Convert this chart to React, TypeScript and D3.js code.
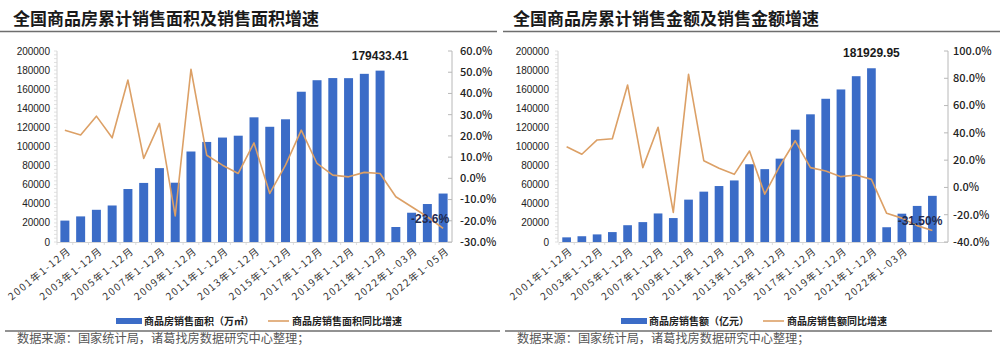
import React from "react";
import * as d3 from "d3";

const categories = [
  "2001年1-12月", "2002年1-12月", "2003年1-12月", "2004年1-12月", "2005年1-12月",
  "2006年1-12月", "2007年1-12月", "2008年1-12月", "2009年1-12月", "2010年1-12月",
  "2011年1-12月", "2012年1-12月", "2013年1-12月", "2014年1-12月", "2015年1-12月",
  "2016年1-12月", "2017年1-12月", "2018年1-12月", "2019年1-12月", "2020年1-12月",
  "2021年1-12月", "2022年1-02月", "2022年1-03月", "2022年1-04月", "2022年1-05月",
];

const areaValues = [
  22412, 26808, 33718, 38232, 55486, 61857, 77355, 62089, 94755, 104765,
  109366, 111304, 130551, 120649, 128495, 157349, 169408, 171654, 171558, 176086,
  179433.41, 15703, 30655, 39768, 50738,
];
const areaGrowth = [
  22.7, 20.4, 29.3, 19.1, 46.3, 9.4, 25.9, -17.7, 51.4, 10.9,
  6.2, 2.3, 16.7, -7.1, 6.2, 22.7, 7.0, 1.5, 0.7, 2.8,
  2.3, -8.7, -13.4, -18.1, -23.6,
];

const amountValues = [
  4863, 6032, 7956, 10376, 17576, 20826, 29889, 25068, 44355, 52721,
  58589, 64456, 81428, 76292, 87281, 117627, 133701, 149973, 159725, 173613,
  181929.95, 15459, 29655, 37773, 48337,
];
const amountGrowth = [
  29.8, 24.3, 34.8, 35.7, 75.1, 14.5, 44.1, -18.3, 82.9, 19.6,
  14.0, 9.6, 26.7, -4.9, 15.9, 34.2, 14.5, 12.0, 7.9, 9.1,
  5.9, -19.0, -22.5, -28.0, -31.5,
];

const leftTicks = [0, 20000, 40000, 60000, 80000, 100000, 120000, 140000, 160000, 180000, 200000];
const areaPctTicks = [-30, -20, -10, 0, 10, 20, 30, 40, 50, 60];
const amountPctTicks = [-40, -20, 0, 20, 40, 60, 80, 100];

const areaLabelIdx = [0, 2, 4, 6, 8, 10, 12, 14, 16, 18, 20, 22, 24];
const amountLabelIdx = [0, 2, 4, 6, 8, 10, 12, 14, 16, 18, 20, 22];

const BAR = "#3b6cc7";
const LINE = "#dca066";
const CJK = "'Noto Sans CJK SC', 'Noto Sans', sans-serif";

type PanelProps = {
  title: string;
  values: number[];
  growth: number[];
  pctDomain: [number, number];
  pctTicks: number[];
  pctFmt: (v: number) => string;
  labelIdx: number[];
  peakLabel: string;
  lastLabel: string;
  lastLabelDx: number;
  legendBar: string;
  legendLine: string;
  x0: number;
  xRange: [number, number];
  leftAxisX: number;
  rightAxisX: number;
  rightLabelX: number;
  leftLabelX: number;
  legendBarX: number;
  legendLineX: number;
  hr: [number, number];
  foot: [number, number];
  sourceX: number;
};

function Panel(p: PanelProps) {
  const yTop = 51;
  const yBot = 242;
  const x = d3.scaleBand<string>().domain(categories).range(p.xRange).padding(0);
  const bw = x.bandwidth();
  const barW = bw * 0.57;
  const cx = (i: number) => (x(categories[i]) as number) + bw / 2;
  const yL = d3.scaleLinear().domain([0, 200000]).range([yBot, yTop]);
  const yR = d3.scaleLinear().domain(p.pctDomain).range([yBot, yTop]);
  const line = d3
    .line<number>()
    .x((_, i) => cx(i))
    .y((d) => yR(d));
  const minor = d3.range(0, 200001, 4000);
  const peakIdx = 20;
  const lastIdx = categories.length - 1;

  return (
    <g>
      <text x={p.x0 + 13} y={25} fontFamily={CJK} fontSize={17} fontWeight={700} fill="#1a1a1a">
        {p.title}
      </text>
      <line x1={p.hr[0]} x2={p.hr[1]} y1={31.5} y2={31.5} stroke="#6e6e6e" strokeWidth={1.5} />

      {/* left axis */}
      <line x1={p.leftAxisX} x2={p.leftAxisX} y1={yTop} y2={yBot} stroke="#d4d4d4" strokeWidth={1} />
      {minor.map((v) => (
        <line key={"m" + v} x1={p.leftAxisX - 3} x2={p.leftAxisX} y1={yL(v)} y2={yL(v)} stroke="#d8d8d8" strokeWidth={0.8} />
      ))}
      {leftTicks.map((v) => (
        <text key={"l" + v} x={p.leftLabelX} y={yL(v)} dy="0.35em" textAnchor="end"
          fontFamily="'Liberation Sans', Arial, sans-serif" fontSize={10} fill="#222">
          {v}
        </text>
      ))}

      {/* bottom axis */}
      <line x1={p.xRange[0]} x2={p.rightAxisX} y1={yBot + 0.5} y2={yBot + 0.5} stroke="#d4d4d4" strokeWidth={1} />
      {categories.map((c) => (
        <line key={"bt" + c} x1={x(c) as number} x2={x(c) as number} y1={yBot} y2={yBot + 3} stroke="#d4d4d4" strokeWidth={0.8} />
      ))}

      {/* right axis */}
      <line x1={p.rightAxisX} x2={p.rightAxisX} y1={yTop} y2={yBot} stroke="#b8b8b8" strokeWidth={1} />
      {p.pctTicks.map((v) => (
        <g key={"r" + v}>
          <line x1={p.rightAxisX - 4} x2={p.rightAxisX} y1={yR(v)} y2={yR(v)} stroke="#b8b8b8" strokeWidth={1} />
          <text x={p.rightLabelX} y={yR(v)} dy="0.35em" fontFamily={CJK} fontSize={11} fontWeight={500} fill="#222">
            {p.pctFmt(v)}
          </text>
        </g>
      ))}

      {/* bars */}
      {p.values.map((v, i) => (
        <rect key={"b" + i} x={cx(i) - barW / 2} y={yL(v)} width={barW} height={yBot - yL(v)} fill={BAR} />
      ))}

      {/* growth line */}
      <path d={line(p.growth) as string} fill="none" stroke={LINE} strokeWidth={1.6} strokeLinejoin="round" />

      {/* data labels */}
      <text x={cx(peakIdx)} y={yL(p.values[peakIdx]) - 11} textAnchor="middle"
        fontFamily="'Liberation Sans', Arial, sans-serif" fontSize={12} fontWeight={700} fill="#1a1a1a">
        {p.peakLabel}
      </text>
      <text x={cx(lastIdx) + p.lastLabelDx} y={yR(p.growth[lastIdx]) - 5} textAnchor="end"
        fontFamily="'Liberation Sans', Arial, sans-serif" fontSize={12} fontWeight={700} fill="#1f2a4f">
        {p.lastLabel}
      </text>

      {/* x labels */}
      {p.labelIdx.map((i) => (
        <text key={"xl" + i} transform={`translate(${cx(i) + 7},${yBot + 10}) rotate(-39)`}
          textAnchor="end" fontFamily={CJK} fontSize={10} letterSpacing={1.5} fill="#333">
          {categories[i]}
        </text>
      ))}

      {/* legend */}
      <rect x={p.legendBarX} y={318} width={26} height={6} fill={BAR} />
      <text x={p.legendBarX + 28} y={321} dy="0.35em" fontFamily={CJK} fontSize={10} fontWeight={700} fill="#222">
        {p.legendBar}
      </text>
      <line x1={p.legendLineX} x2={p.legendLineX + 21} y1={321} y2={321} stroke={LINE} strokeWidth={1.6} />
      <text x={p.legendLineX + 24} y={321} dy="0.35em" fontFamily={CJK} fontSize={10} fontWeight={700} fill="#222">
        {p.legendLine}
      </text>

      <line x1={p.foot[0]} x2={p.foot[1]} y1={331} y2={331} stroke="#6e6e6e" strokeWidth={1.5} />
      <text x={p.sourceX} y={343} fontFamily={CJK} fontSize={12.2} fill="#555">
        数据来源：国家统计局，诸葛找房数据研究中心整理；
      </text>
    </g>
  );
}

export default function App() {
  return (
    <svg width={1000} height={361} style={{ position: "absolute", left: 0, top: 0, background: "#fff" }}>
      <rect width={1000} height={361} fill="#fff" />
      <Panel
        title="全国商品房累计销售面积及销售面积增速"
        values={areaValues}
        growth={areaGrowth}
        pctDomain={[-30, 60]}
        pctTicks={areaPctTicks}
        pctFmt={(v) => v.toFixed(1) + "%"}
        labelIdx={areaLabelIdx}
        peakLabel="179433.41"
        lastLabel="-23.6%"
        lastLabelDx={6}
        legendBar="商品房销售面积（万㎡）"
        legendLine="商品房销售面积同比增速"
        x0={0}
        xRange={[57, 451]}
        leftAxisX={57}
        rightAxisX={452}
        rightLabelX={460}
        leftLabelX={50}
        legendBarX={116}
        legendLineX={268}
        hr={[0, 497]}
        foot={[5, 500]}
        sourceX={17}
      />
      <Panel
        title="全国商品房累计销售金额及销售金额增速"
        values={amountValues}
        growth={amountGrowth}
        pctDomain={[-40, 100]}
        pctTicks={amountPctTicks}
        pctFmt={(v) => v.toFixed(1) + "%"}
        labelIdx={amountLabelIdx}
        peakLabel="181929.95"
        lastLabel="-31.50%"
        lastLabelDx={10}
        legendBar="商品房销售额（亿元）"
        legendLine="商品房销售额同比增速"
        x0={500}
        xRange={[559, 940]}
        leftAxisX={558}
        rightAxisX={948}
        rightLabelX={953}
        leftLabelX={549}
        legendBarX={621}
        legendLineX={763}
        hr={[503, 1000]}
        foot={[505, 992]}
        sourceX={517}
      />
    </svg>
  );
}
